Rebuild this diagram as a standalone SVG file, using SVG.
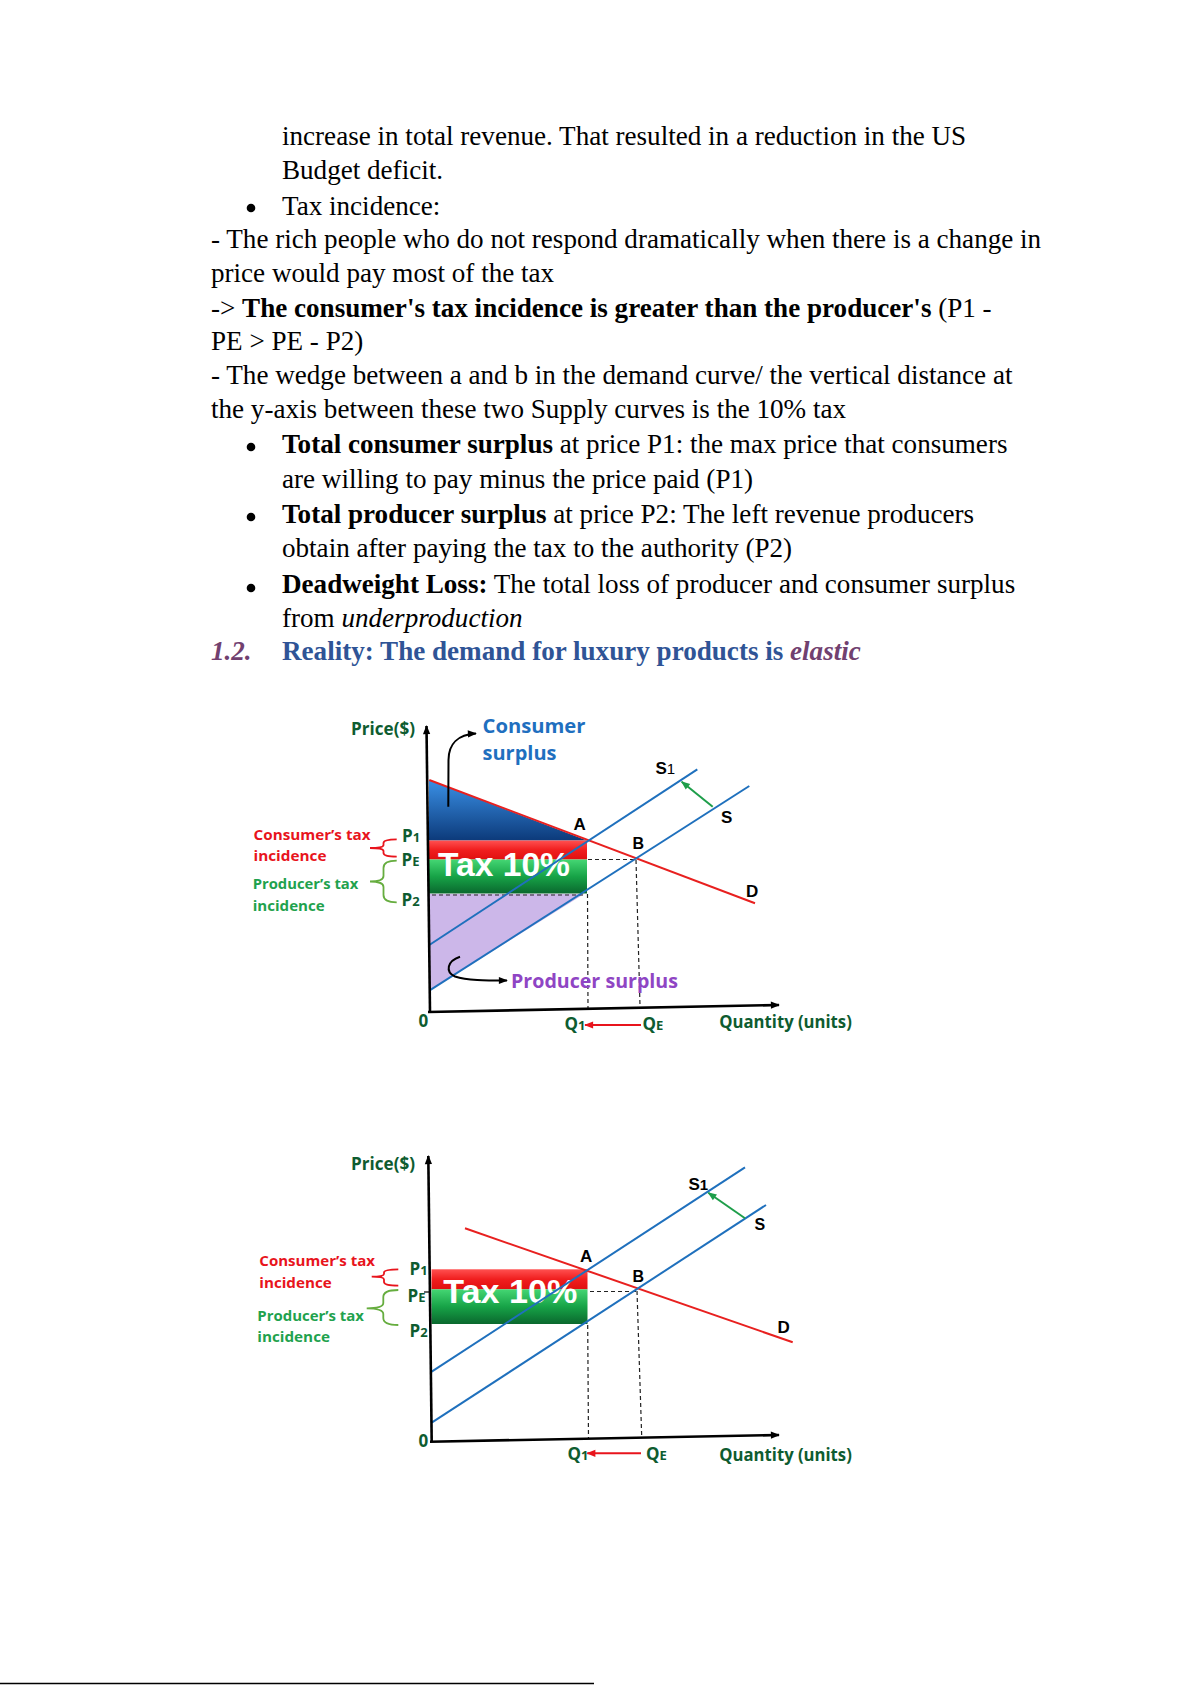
<svg xmlns="http://www.w3.org/2000/svg" width="1191" height="1685" viewBox="0 0 1191 1685">
<style>
.body{font-family:"Liberation Serif","Times New Roman",serif;font-size:27.1px;fill:#000}
.b{font-weight:bold}
.i{font-style:italic}
.h{font-weight:bold;fill:#2F5496}
.pur{fill:#71406F}
.lab{font-family:"Open Sans","Liberation Sans",Arial,sans-serif;font-weight:700}
.ar{font-family:"Liberation Sans",Arial,sans-serif;font-weight:700}
.dg{fill:#0E5C30}
.blk{fill:#000}
.red{fill:#E8141C}
.grn{fill:#1FA24E}
.sub{font-size:13px}
.ax{stroke:#000;stroke-width:2.6;fill:none}
.dem{stroke:#E8201F;stroke-width:2;fill:none}
.sup{stroke:#1F70BD;stroke-width:2;fill:none}
.dash{stroke:#222;stroke-width:1.2;stroke-dasharray:4 3;fill:none}
.curve{stroke:#000;stroke-width:2;fill:none}
</style>
<defs>
<marker id="ahK" viewBox="0 0 10 10" refX="9" refY="5" markerWidth="10" markerHeight="9" markerUnits="userSpaceOnUse" orient="auto"><path d="M0,1 L10,5 L0,9 z" fill="#000"/></marker>
<marker id="ahG" viewBox="0 0 10 10" refX="9" refY="5" markerWidth="10" markerHeight="9" markerUnits="userSpaceOnUse" orient="auto"><path d="M0,1 L10,5 L0,9 z" fill="#1E9E4A"/></marker>
<marker id="ahR" viewBox="0 0 10 10" refX="9" refY="5" markerWidth="10" markerHeight="9" markerUnits="userSpaceOnUse" orient="auto"><path d="M0,1 L10,5 L0,9 z" fill="#E8141C"/></marker>
<linearGradient id="gCS" x1="0" y1="0" x2="0" y2="1"><stop offset="0" stop-color="#3A90E6"/><stop offset="1" stop-color="#0C3A7A"/></linearGradient>
<linearGradient id="gRed" x1="0" y1="0" x2="0" y2="1"><stop offset="0" stop-color="#FF5050"/><stop offset="0.5" stop-color="#F01E1E"/><stop offset="1" stop-color="#E01010"/></linearGradient>
<linearGradient id="gGrn" x1="0" y1="0" x2="0" y2="1"><stop offset="0" stop-color="#44D673"/><stop offset="0.5" stop-color="#17A347"/><stop offset="1" stop-color="#0A682E"/></linearGradient>
</defs>

<g id="text-block" class="body">
<text x="282" y="145">increase in total revenue. That resulted in a reduction in the US</text>
<text x="282" y="179">Budget deficit.</text>
<circle cx="251" cy="208" r="4.3" fill="#000"/>
<text x="282" y="215">Tax incidence:</text>
<text x="211" y="248">- The rich people who do not respond dramatically when there is a change in</text>
<text x="211" y="282">price would pay most of the tax</text>
<text x="211" y="317">-&gt; <tspan class="b">The consumer's tax incidence is greater than the producer's</tspan> (P1 -</text>
<text x="211" y="350">PE &gt; PE - P2)</text>
<text x="211" y="384">- The wedge between a and b in the demand curve/ the vertical distance at</text>
<text x="211" y="418">the y-axis between these two Supply curves is the 10% tax</text>
<circle cx="251" cy="447" r="4.3" fill="#000"/>
<text x="282" y="453"><tspan class="b">Total consumer surplus</tspan> at price P1: the max price that consumers</text>
<text x="282" y="488">are willing to pay minus the price paid (P1)</text>
<circle cx="251" cy="517" r="4.3" fill="#000"/>
<text x="282" y="523"><tspan class="b">Total producer surplus</tspan> at price P2: The left revenue producers</text>
<text x="282" y="557">obtain after paying the tax to the authority (P2)</text>
<circle cx="251" cy="588" r="4.3" fill="#000"/>
<text x="282" y="593"><tspan class="b">Deadweight Loss:</tspan> The total loss of producer and consumer surplus</text>
<text x="282" y="627">from <tspan class="i">underproduction</tspan></text>
<text x="211" y="660" class="b i pur">1.2.</text>
<text x="282" y="660" class="h">Reality: The demand for luxury products is <tspan class="i pur">elastic</tspan></text>
</g>

<!-- Chart 1 -->
<g id="chart1">
<g id="c1-consumer-surplus-area"><polygon points="429,780 587,840.5 429,840.5" fill="url(#gCS)"/></g>
<g id="c1-tax-band">
<rect x="429" y="840.5" width="158" height="19" fill="url(#gRed)"/>
<rect x="429" y="859.5" width="158" height="34" fill="url(#gGrn)"/>
<text x="438" y="876" class="ar" font-size="34" fill="#fff" textLength="132" lengthAdjust="spacingAndGlyphs">Tax 10%</text>
</g>
<g id="c1-producer-surplus-area"><polygon points="429,894 584,894 429,991" fill="#CCB7E9"/></g>
<g id="c1-connectors">
<line x1="588" y1="859.5" x2="636" y2="859.5" class="dash"/>
<line x1="432" y1="895" x2="585" y2="895" class="dash"/>
<line x1="587.5" y1="894" x2="588" y2="1009" class="dash"/>
<line x1="636" y1="860" x2="640" y2="1006" class="dash"/>
<line x1="429.3" y1="780" x2="755" y2="903.3" class="dem"/>
<line x1="429.3" y1="945" x2="697.3" y2="769.3" class="sup"/>
<line x1="429.3" y1="990.7" x2="749.3" y2="786" class="sup"/>
<line x1="430" y1="1012" x2="426.5" y2="726" class="ax" marker-end="url(#ahK)"/>
<line x1="428" y1="1012" x2="779" y2="1005" class="ax" marker-end="url(#ahK)"/>
<path d="M448.3,806.7 L448.5,760 C448.5,744 458,734.5 476,733.5" class="curve" marker-end="url(#ahK)"/>
<path d="M460,956.7 C447,961 445,972 455,976.5 C467,980.5 485,980.5 507,980.5" class="curve" marker-end="url(#ahK)"/>
<line x1="712.7" y1="806.7" x2="681.7" y2="781.7" stroke="#1E9E4A" stroke-width="2" marker-end="url(#ahG)"/>
<line x1="641" y1="1025" x2="585" y2="1025" stroke="#E8141C" stroke-width="2" marker-end="url(#ahR)"/>
<path d="M396.7,839.3 Q383.5,839.3 383.5,843 L383.5,845 Q383.5,848 370,848 Q383.5,848 383.5,851 L383.5,853 Q383.5,856.7 396.7,856.7" stroke="#E8141C" stroke-width="1.8" fill="none"/>
<path d="M396.7,860.7 Q383.5,860.7 383.5,868 L383.5,876 Q383.5,881.5 370,881.5 Q383.5,881.5 383.5,887 L383.5,895 Q383.5,902.3 396.7,902.3" stroke="#66AD3F" stroke-width="1.8" fill="none"/>
</g>
<g id="c1-labels" class="lab">
<text x="351" y="735" font-size="17" class="dg" textLength="64" lengthAdjust="spacingAndGlyphs">Price($)</text>
<text x="482.5" y="733" font-size="19.5" fill="#1F6FBF" textLength="103" lengthAdjust="spacingAndGlyphs">Consumer</text>
<text x="482.5" y="760" font-size="19.5" fill="#1F6FBF" textLength="74" lengthAdjust="spacingAndGlyphs">surplus</text>
<text x="655.5" y="774" font-size="17" class="ar blk">S<tspan font-weight="400" font-size="15">1</tspan></text>
<text x="721" y="823" font-size="17" class="ar blk">S</text>
<text x="573.5" y="830" font-size="17" class="ar blk">A</text>
<text x="632.5" y="848.5" font-size="16" class="ar blk">B</text>
<text x="746" y="897" font-size="17" class="ar blk">D</text>
<text x="253.5" y="840" font-size="15" class="red" textLength="117" lengthAdjust="spacingAndGlyphs">Consumer’s tax</text>
<text x="253.5" y="861" font-size="15" class="red" textLength="73" lengthAdjust="spacingAndGlyphs">incidence</text>
<text x="252.7" y="889.3" font-size="15" class="grn" textLength="105.6" lengthAdjust="spacingAndGlyphs">Producer’s tax</text>
<text x="252.7" y="911" font-size="15" class="grn" textLength="72" lengthAdjust="spacingAndGlyphs">incidence</text>
<text x="402" y="841.7" font-size="17" class="dg">P<tspan class="sub">1</tspan></text>
<text x="401.5" y="865.7" font-size="17" class="dg">P<tspan class="sub">E</tspan></text>
<text x="401.5" y="905.7" font-size="17" class="dg">P<tspan class="sub">2</tspan></text>
<text x="511" y="988.3" font-size="19.5" fill="#8F45C4" textLength="167" lengthAdjust="spacingAndGlyphs">Producer surplus</text>
<text x="418.5" y="1026.7" font-size="17" class="dg">0</text>
<text x="564.5" y="1030" font-size="17" class="dg">Q<tspan class="sub">1</tspan></text>
<text x="642.5" y="1030" font-size="17" class="dg">Q<tspan class="sub">E</tspan></text>
<text x="719.3" y="1028" font-size="18" class="dg" textLength="132.5" lengthAdjust="spacingAndGlyphs">Quantity (units)</text>
</g>
</g>

<!-- Chart 2 -->
<g id="chart2">
<g id="c2-tax-band">
<rect x="431.5" y="1269.3" width="156" height="20" fill="url(#gRed)"/>
<rect x="431.5" y="1289.3" width="156" height="34.7" fill="url(#gGrn)"/>
<text x="443.3" y="1302.7" class="ar" font-size="34" fill="#fff" textLength="134" lengthAdjust="spacingAndGlyphs">Tax 10%</text>
</g>
<g id="c2-connectors">
<line x1="590" y1="1291.5" x2="636.7" y2="1291.5" class="dash"/>
<line x1="587.7" y1="1325" x2="588.5" y2="1439" class="dash"/>
<line x1="637" y1="1291" x2="641.7" y2="1436.7" class="dash"/>
<line x1="424" y1="1292" x2="431" y2="1292" stroke="#000" stroke-width="1.2"/>
<line x1="465" y1="1228.3" x2="792.7" y2="1342.3" class="dem"/>
<line x1="431.7" y1="1371.7" x2="745" y2="1167.3" class="sup"/>
<line x1="431.7" y1="1422.7" x2="766" y2="1205" class="sup"/>
<line x1="431.7" y1="1441.7" x2="428.3" y2="1156" class="ax" marker-end="url(#ahK)"/>
<line x1="430" y1="1441.7" x2="779" y2="1435" class="ax" marker-end="url(#ahK)"/>
<line x1="745" y1="1218.3" x2="708.3" y2="1192.7" stroke="#1E9E4A" stroke-width="2" marker-end="url(#ahG)"/>
<line x1="641" y1="1453.3" x2="587.3" y2="1453.3" stroke="#E8141C" stroke-width="2" marker-end="url(#ahR)"/>
<path d="M398.3,1269.3 Q384,1269.3 384,1272.5 L384,1274 Q384,1276.7 371.7,1276.7 Q384,1276.7 384,1279.5 L384,1282 Q384,1285.7 398.3,1285.7" stroke="#E8141C" stroke-width="1.8" fill="none"/>
<path d="M398.3,1290 Q383.3,1290 383.3,1297 L383.3,1303 Q383.3,1308.3 366.7,1308.3 Q383.3,1308.3 383.3,1314 L383.3,1318 Q383.3,1325 398.3,1325" stroke="#66AD3F" stroke-width="1.8" fill="none"/>
</g>
<g id="c2-labels" class="lab">
<text x="351" y="1170" font-size="17" class="dg" textLength="64" lengthAdjust="spacingAndGlyphs">Price($)</text>
<text x="688.5" y="1190" font-size="17" class="ar blk">S<tspan font-size="15">1</tspan></text>
<text x="754.5" y="1230" font-size="16" class="ar blk">S</text>
<text x="580" y="1261.5" font-size="17" class="ar blk">A</text>
<text x="632.5" y="1281.5" font-size="16" class="ar blk">B</text>
<text x="777.5" y="1333" font-size="17" class="ar blk">D</text>
<text x="259.3" y="1266" font-size="15" class="red" textLength="115.7" lengthAdjust="spacingAndGlyphs">Consumer’s tax</text>
<text x="259.3" y="1288.3" font-size="15" class="red" textLength="72.4" lengthAdjust="spacingAndGlyphs">incidence</text>
<text x="257.3" y="1320.7" font-size="15" class="grn" textLength="106.7" lengthAdjust="spacingAndGlyphs">Producer’s tax</text>
<text x="257.3" y="1341.7" font-size="15" class="grn" textLength="72.7" lengthAdjust="spacingAndGlyphs">incidence</text>
<text x="409.5" y="1275" font-size="17" class="dg">P<tspan class="sub">1</tspan></text>
<text x="407.5" y="1301.7" font-size="17" class="dg">P<tspan class="sub">E</tspan></text>
<text x="409.5" y="1337.3" font-size="17" class="dg">P<tspan class="sub">2</tspan></text>
<text x="418.5" y="1446.7" font-size="17" class="dg">0</text>
<text x="567.5" y="1460" font-size="17" class="dg">Q<tspan class="sub">1</tspan></text>
<text x="646" y="1460" font-size="17" class="dg">Q<tspan class="sub">E</tspan></text>
<text x="719.3" y="1461" font-size="18" class="dg" textLength="132.5" lengthAdjust="spacingAndGlyphs">Quantity (units)</text>
</g>
</g>

<g id="footer-rule"><line x1="0" y1="1683.5" x2="594" y2="1683.5" stroke="#000" stroke-width="1.5"/></g>
</svg>
